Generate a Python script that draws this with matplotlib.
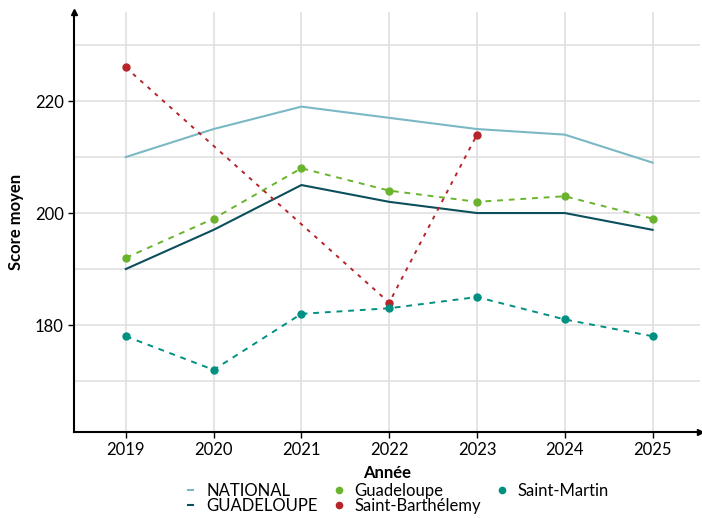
import numpy as np
import matplotlib
matplotlib.use("Agg")
import matplotlib.pyplot as plt
from matplotlib.lines import Line2D

plt.rcParams['font.family'] = ['Lato', 'DejaVu Sans']

years = [2019, 2020, 2021, 2022, 2023, 2024, 2025]
national = [210, 215, 219, 217, 215, 214, 209]
guadeloupe_acad = [190, 197, 205, 202, 200, 200, 197]
guadeloupe = [192, 199, 208, 204, 202, 203, 199]
st_barth_years = [2019, 2022, 2023]
st_barth = [226, 184, 214]
st_martin = [178, 172, 182, 183, 185, 181, 178]

c_nat = '#7ab8c4'
c_gua_acad = '#0b4f5c'
c_gua = '#6ab42d'
c_sb = '#b5252a'
c_sm = '#009081'

fig = plt.figure(figsize=(7.02, 5.18), dpi=100)
ax = fig.add_axes([74/702, 86/518, 626/702, 420/518])

ax.plot(years, national, color=c_nat, lw=1.5, zorder=3)
ax.plot(years, guadeloupe_acad, color=c_gua_acad, lw=1.5, zorder=3)
ax.plot(years, guadeloupe, color=c_gua, lw=1.4, ls=(0, (3, 3)), marker='o', ms=5, zorder=4)
ax.plot(st_barth_years, st_barth, color=c_sb, lw=1.4, ls=(0, (2, 3)), marker='o', ms=5, zorder=4)
ax.plot(years, st_martin, color=c_sm, lw=1.4, ls=(0, (3, 3)), marker='o', ms=5, zorder=4)

ax.set_xlim(2018.41, 2025.54)
ax.set_ylim(160.9, 235.9)
ax.set_xticks(years)
ax.set_xticklabels([str(y) for y in years])
ax.set_yticks([180, 200, 220])
ax.set_yticks([170, 190, 210, 230], minor=True)
ax.tick_params(axis='y', which='minor', length=0)
ax.tick_params(axis='both', which='major', labelsize=12, length=4, width=1, color='black')
ax.grid(True, which='both', color='#e0e0e0', lw=1.2, zorder=0)
ax.set_axisbelow(True)

for s in ['top', 'right']:
    ax.spines[s].set_visible(False)
for s in ['left', 'bottom']:
    ax.spines[s].set_linewidth(1.5)
ax.plot(1, 0, '>k', ms=4, transform=ax.transAxes, clip_on=False)
ax.plot(0, 1, '^k', ms=4, transform=ax.transAxes, clip_on=False)

ax.set_ylabel('Score moyen', fontsize=12, fontweight='bold', labelpad=8)
ax.set_xlabel('Année', fontsize=12, fontweight='bold', labelpad=5)

handles = [
    Line2D([], [], color=c_nat, lw=1.5),
    Line2D([], [], color=c_gua_acad, lw=1.5),
    Line2D([], [], color=c_gua, ls='none', marker='o', ms=4.5),
    Line2D([], [], color=c_sb, ls='none', marker='o', ms=4.5),
    Line2D([], [], color=c_sm, ls='none', marker='o', ms=4.5),
]
labels = ['NATIONAL', 'GUADELOUPE', 'Guadeloupe', 'Saint-Barthélemy', 'Saint-Martin']
fig.legend(handles, labels, ncol=3, loc='upper left', bbox_to_anchor=(188/702, 1 - 483/518),
           frameon=False, fontsize=12, handlelength=0.3, handletextpad=0.8,
           columnspacing=1.1, labelspacing=-0.05, borderpad=0, borderaxespad=0)

fig.savefig('out.png', dpi=100)
